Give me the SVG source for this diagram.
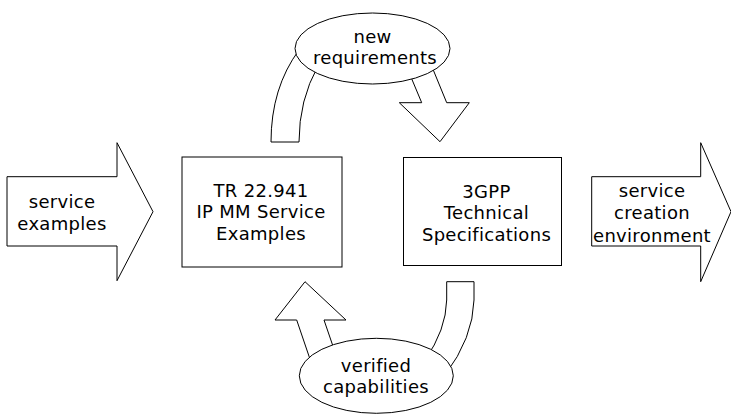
<svg xmlns="http://www.w3.org/2000/svg" width="731" height="414" viewBox="0 0 731 414">
<style>
.s{fill:#fff;stroke:#000;stroke-width:1}
text{font-family:"DejaVu Sans","Verdana",sans-serif;font-size:18px;fill:#000;text-anchor:middle;letter-spacing:0.3px}
</style>
<rect width="731" height="414" fill="#fff"/>
<g id="connectors">
<path class="s" d="M271,142 Q271,88 299,50 L318,66 Q299,100 299,142 Z"/>
<path class="s" d="M408,70 L421.7,102.7 L399.3,102.7 L440,141.7 L469.3,102.7 L446.7,102.7 L430,62 Z"/>
<path class="s" d="M305,281.7 L275,320 L296.7,320 L312,365 L336,355 L324,320 L346,320 Z"/>
<path class="s" d="M446.7,281.7 L474,281.7 L474,300 Q473,338 445,375 L425,360 Q446,330 446.7,300 Z"/>
</g>
<g id="in-arrow">
<path class="s" d="M7,176.7 L117,176.7 L117,142.7 L153,211.7 L117,280.7 L117,246 L7,246 Z"/>
<text x="62" y="208.3">service</text>
<text x="62" y="230">examples</text>
</g>
<g id="out-arrow">
<path class="s" d="M591.7,176.7 L700.7,176.7 L700.7,142.7 L731,211.7 L700.7,281.7 L700.7,246 L591.7,246 Z"/>
<text x="652" y="197">service</text>
<text x="652" y="219.3">creation</text>
<text x="652" y="241.7">environment</text>
</g>
<g id="tr-box">
<rect class="s" x="182" y="157" width="160" height="110"/>
<text x="261" y="196.7">TR 22.941</text>
<text x="261" y="218.3">IP MM Service</text>
<text x="261" y="240">Examples</text>
</g>
<g id="spec-box">
<rect class="s" x="403.5" y="157.5" width="158" height="108"/>
<text x="486.5" y="197.7">3GPP</text>
<text x="486.5" y="219">Technical</text>
<text x="486.5" y="240.5">Specifications</text>
</g>
<g id="new-req">
<ellipse class="s" cx="372.5" cy="48.5" rx="77.5" ry="35.5"/>
<text x="372.5" y="42.7">new</text>
<text x="375" y="64">requirements</text>
</g>
<g id="verified">
<ellipse class="s" cx="376.3" cy="375.8" rx="77" ry="37.5"/>
<text x="376" y="371.7">verified</text>
<text x="376" y="393.3">capabilities</text>
</g>
</svg>
